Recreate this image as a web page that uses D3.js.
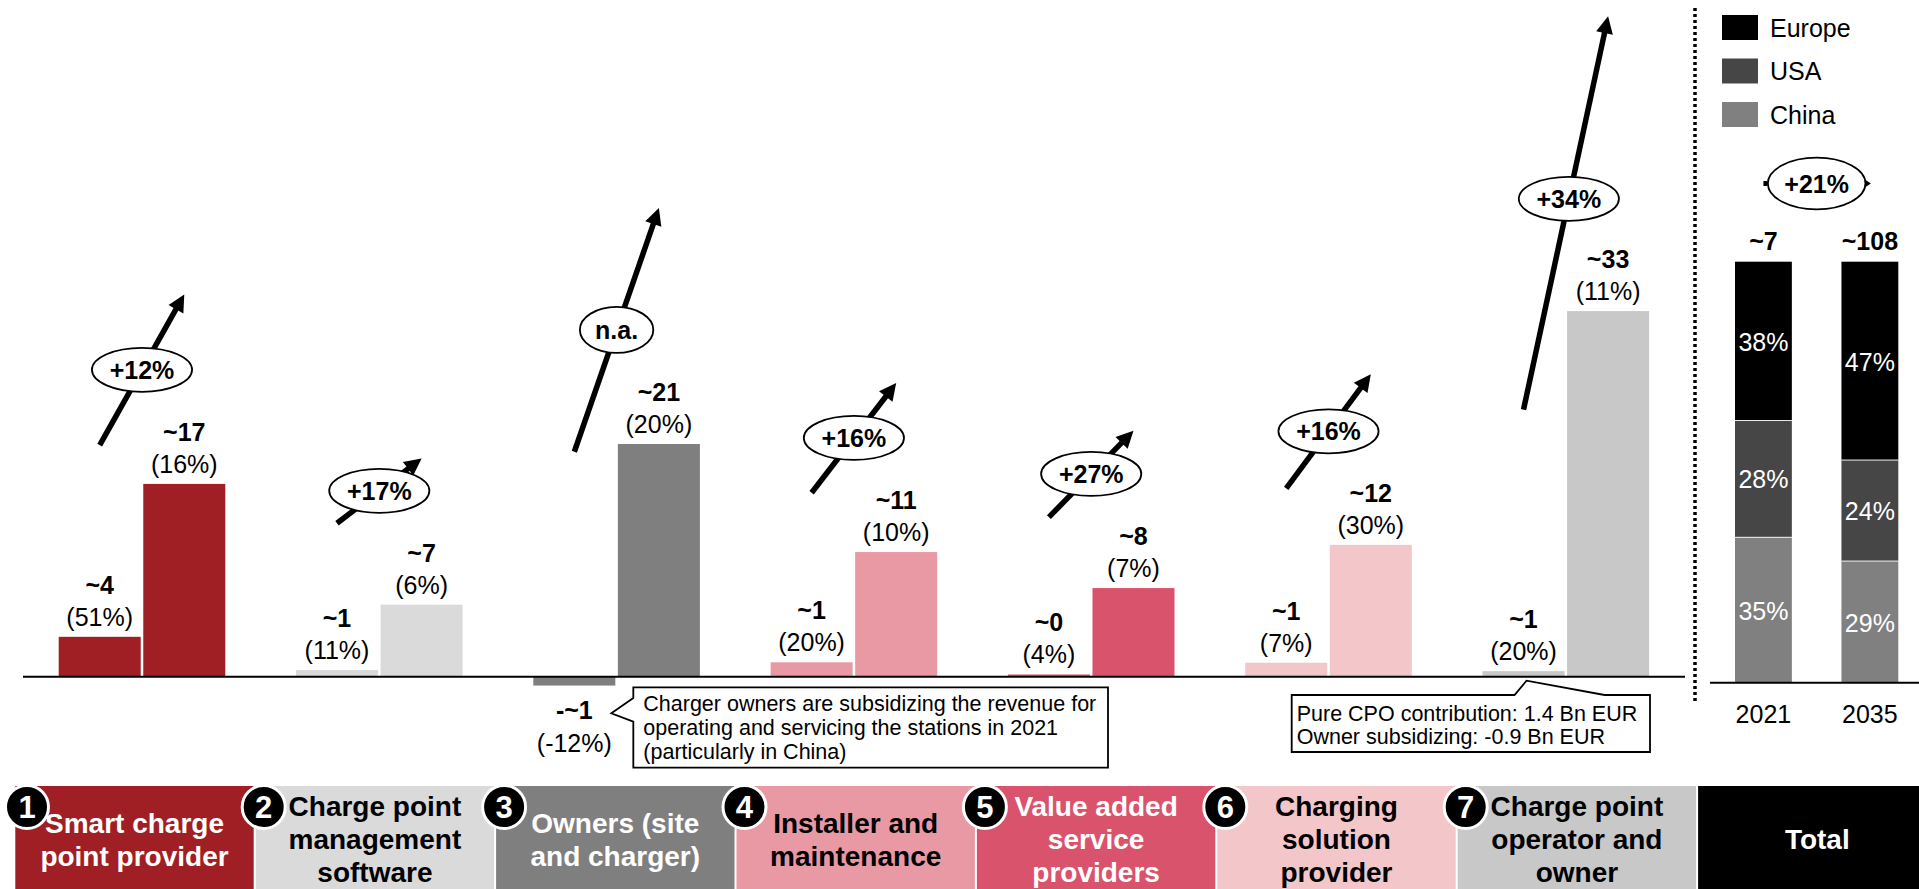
<!DOCTYPE html>
<html>
<head>
<meta charset="utf-8">
<script src="https://cdn.jsdelivr.net/npm/d3@7/dist/d3.min.js"></script>
<style>
  html, body { margin: 0; padding: 0; background: #fff; overflow: hidden; }
  svg { display: block; font-family: "Liberation Sans", Arial, Helvetica, sans-serif; }
</style>
</head>
<body>
<svg id="chart" width="1919" height="889"></svg>
<script>
// ---- Data (revenue pools, Bn EUR) ----
const categories = [
  "Smart charge\npoint provider",
  "Charge point\nmanagement\nsoftware",
  "Owners (site\nand charger)",
  "Installer and\nmaintenance",
  "Value added\nservice\nproviders",
  "Charging\nsolution\nprovider",
  "Charge point\noperator and\nowner"
];
const years = ["2021", "2035"];
const revenue2021 = [3.6, 0.6, -0.8, 1.3, 0.2, 1.26, 0.5];
const revenue2035 = [17.4, 6.5, 21, 11.25, 8, 11.9, 33];
const share2021 = ["51%", "11%", "-12%", "20%", "4%", "7%", "20%"];
const share2035 = ["16%", "6%", "20%", "10%", "7%", "30%", "11%"];
const cagr = ["+12%", "+17%", "n.a.", "+16%", "+27%", "+16%", "+34%"];

const regions = ["Europe", "USA", "China"];
const totalYears = ["2021", "2035"];
const totalValues = [7, 108];
const regionShare2021 = [38, 28, 35];
const regionShare2035 = [47, 24, 29];
const totalCagr = "+21%";

const noteOwners = ["Charger owners are subsidizing the revenue for",
                    "operating and servicing the stations in 2021",
                    "(particularly in China)"];
const noteCpo = ["Pure CPO contribution: 1.4 Bn EUR",
                 "Owner subsidizing: -0.9 Bn EUR"];

// ---- Styling / layout ----
const barColors = ["#a01f24", "#dadada", "#7f7f7f", "#e899a4", "#da536c", "#f3c6c9", "#c8c8c8"];
const boxText = ["#fff", "#000", "#fff", "#000", "#fff", "#000", "#000"];
const regionColors = { Europe: "#000000", USA: "#464646", China: "#808080" };
// growth arrows: start / end level in axis units (Bn EUR), bubble position along the arrow
const arrowFrom = [20.9, 13.85, 20.3, 16.6, 14.4, 17.0, 24.1];
const arrowTo   = [34.5, 19.7, 42.3, 26.5, 22.2, 27.3, 59.6];
const bubbleAt  = [0.5, 0.5, 0.5, 0.5, 0.5, 0.5, 0.536];

const FONT = 25;
const svg = d3.select("#chart");

const x = d3.scaleBand().domain(categories).range([58.7, 1649.1]).paddingInner(0.298).paddingOuter(0);
const xYear = d3.scaleBand().domain(years).range([0, x.bandwidth()]).paddingInner(0.03);
const y = d3.scaleLinear().domain([0, 33]).range([676.7, 676.7 - 33 * 11.08]);

const rows = categories.map((c, i) => ({
  cat: c, i,
  vals: [
    { year: "2021", v: revenue2021[i], share: share2021[i] },
    { year: "2035", v: revenue2035[i], share: share2035[i] }
  ]
}));

const fmt = v => (v < 0 ? "-~" + Math.round(Math.abs(v)) : "~" + Math.round(v));

// ---- Bars ----
const groups = svg.append("g").selectAll("g").data(rows).join("g")
  .attr("transform", d => `translate(${x(d.cat)},0)`);

groups.selectAll("rect").data(d => d.vals.map(v => ({ ...v, i: d.i }))).join("rect")
  .attr("x", d => xYear(d.year))
  .attr("width", xYear.bandwidth())
  .attr("y", d => Math.min(y(d.v), y(0)))
  .attr("height", d => Math.abs(y(d.v) - y(0)))
  .attr("fill", d => barColors[d.i]);

// value and share labels
groups.each(function (d) {
  const g = d3.select(this);
  d.vals.forEach(v => {
    const cx = xYear(v.year) + xYear.bandwidth() / 2;
    const top = v.v >= 0;
    const yVal = top ? y(v.v) - 11 - 32 : y(v.v) + 33;
    const yPct = top ? y(v.v) - 11 : y(v.v) + 66;
    g.append("text").attr("x", cx).attr("y", yVal).attr("text-anchor", "middle")
      .attr("font-size", FONT).attr("font-weight", "bold").text(fmt(v.v));
    g.append("text").attr("x", cx).attr("y", yPct).attr("text-anchor", "middle")
      .attr("font-size", FONT).text("(" + v.share + ")");
  });
});

// baseline
svg.append("line").attr("x1", 23).attr("x2", 1685).attr("y1", y(0)).attr("y2", y(0))
  .attr("stroke", "#000").attr("stroke-width", 2);

// ---- Growth arrows with CAGR bubbles ----
function arrow(g, x1, y1, x2, y2, w, headL, headW) {
  const dx = x2 - x1, dy = y2 - y1, len = Math.hypot(dx, dy);
  const ux = dx / len, uy = dy / len;
  const bx = x2 - ux * headL, by = y2 - uy * headL;
  g.append("line").attr("x1", x1).attr("y1", y1).attr("x2", bx + ux).attr("y2", by + uy)
    .attr("stroke", "#000").attr("stroke-width", w);
  g.append("path")
    .attr("d", `M${x2},${y2}L${bx - uy * headW},${by + ux * headW}L${bx + uy * headW},${by - ux * headW}Z`)
    .attr("fill", "#000");
}

const arrows = svg.append("g");
rows.forEach(d => {
  const x1 = x(d.cat) + xYear("2021") + xYear.bandwidth() / 2;
  const x2 = x(d.cat) + xYear("2035") + xYear.bandwidth() / 2;
  const y1 = y(arrowFrom[d.i]), y2 = y(arrowTo[d.i]);
  arrow(arrows, x1, y1, x2, y2, 5.5, 17, 8.5);
  const f = bubbleAt[d.i];
  const mx = x1 + (x2 - x1) * f, my = y1 + (y2 - y1) * f;
  const el = arrows.append("ellipse").attr("cx", mx).attr("cy", my)
    .attr("fill", "#fff").attr("stroke", "#000").attr("stroke-width", 1.8);
  const t = arrows.append("text").attr("x", mx).attr("y", my + 9).attr("text-anchor", "middle")
    .attr("font-size", FONT).attr("font-weight", "bold").text(cagr[d.i]);
  const w = t.node().getComputedTextLength();
  el.attr("rx", Math.max(33, w * 0.62 + 10)).attr("ry", cagr[d.i] === "n.a." ? 23 : 22);
});

// ---- Callouts ----
{
  const bc = x(categories[2]) + xYear("2021") + xYear.bandwidth() / 2;
  const L = bc + 59, R = 1108, T = 687.3, B = 767.7, ax = bc + 37;
  svg.append("path")
    .attr("d", `M${L},${T}H${R}V${B}H${L}V721.7L${ax},713.3L${L},698Z`)
    .attr("fill", "#fff").attr("stroke", "#000").attr("stroke-width", 1.8);
  noteOwners.forEach((s, k) => svg.append("text").attr("x", L + 10).attr("y", 711 + k * 23.8)
    .attr("font-size", 21.5).text(s));
}
{
  const bc = x(categories[6]) + xYear("2021") + xYear.bandwidth() / 2;
  const L = 1291.7, R = 1650, T = 695, B = 752;
  svg.append("path")
    .attr("d", `M${L},${T}H${bc - 9}L${bc + 3},${y(0) + 4}L${bc + 81},${T}H${R}V${B}H${L}Z`)
    .attr("fill", "#fff").attr("stroke", "#000").attr("stroke-width", 1.8);
  noteCpo.forEach((s, k) => svg.append("text").attr("x", L + 5).attr("y", 720.5 + k * 23.5)
    .attr("font-size", 21.5).text(s));
}

// ---- Category boxes ----
const boxes = [...categories, "Total"];
const xb = d3.scaleBand().domain(boxes).range([15.3, 1936.5]).paddingInner(0.0083).paddingOuter(0);
const boxTop = 786;
const bg = svg.append("g");
boxes.forEach((c, i) => {
  const isTotal = c === "Total";
  bg.append("rect").attr("x", xb(c)).attr("y", boxTop).attr("width", xb.bandwidth()).attr("height", 110)
    .attr("fill", isTotal ? "#000" : barColors[i]);
  const lines = c.split("\n");
  const cx = xb(c) + xb.bandwidth() / 2;
  lines.forEach((s, k) => bg.append("text").attr("x", cx)
    .attr("y", 849 + (k - (lines.length - 1) / 2) * 33)
    .attr("text-anchor", "middle").attr("font-size", 28).attr("font-weight", "bold")
    .attr("fill", isTotal ? "#fff" : boxText[i]).text(s));
});
boxes.forEach((c, i) => {
  if (c === "Total") return;
  const cx = Math.max(xb(c) + 8, 27);
  bg.append("circle").attr("cx", cx).attr("cy", 807).attr("r", 21.5)
    .attr("fill", "#000").attr("stroke", "#fff").attr("stroke-width", 3);
  bg.append("text").attr("x", cx).attr("y", 818).attr("text-anchor", "middle")
    .attr("font-size", 31).attr("font-weight", "bold").attr("fill", "#fff").text(i + 1);
});

// ---- Total panel ----
svg.append("line").attr("x1", 1695).attr("x2", 1695).attr("y1", 8).attr("y2", 702)
  .attr("stroke", "#000").attr("stroke-width", 3.5).attr("stroke-dasharray", "3,3");

const legend = svg.append("g");
regions.forEach((r, k) => {
  legend.append("rect").attr("x", 1722).attr("y", 15 + k * 43.5).attr("width", 36).attr("height", 25)
    .attr("fill", regionColors[r]);
  legend.append("text").attr("x", 1770).attr("y", 15 + k * 43.5 + 21.5).attr("font-size", FONT).text(r);
});

const xT = d3.scaleBand().domain(totalYears).range([1735, 1898.3]).paddingInner(0.466).paddingOuter(0);
const yT = d3.scaleLinear().domain([0, 1]).range([682.7, 261.7]);
const shares = [regionShare2021, regionShare2035];
totalYears.forEach((yr, j) => {
  const s = shares[j], sum = d3.sum(s);
  // stack from bottom: China, USA, Europe
  const order = [2, 1, 0];
  let acc = 0;
  order.forEach(k => {
    const f0 = acc / sum, f1 = (acc + s[k]) / sum;
    acc += s[k];
    svg.append("rect").attr("x", xT(yr)).attr("width", xT.bandwidth())
      .attr("y", yT(f1)).attr("height", yT(f0) - yT(f1)).attr("fill", regionColors[regions[k]]);
    svg.append("text").attr("x", xT(yr) + xT.bandwidth() / 2).attr("y", (yT(f0) + yT(f1)) / 2 + 10)
      .attr("text-anchor", "middle").attr("font-size", FONT).attr("fill", "#fff").text(s[k] + "%");
    if (f1 < 1) {
      svg.append("line").attr("x1", xT(yr)).attr("x2", xT(yr) + xT.bandwidth())
        .attr("y1", yT(f1)).attr("y2", yT(f1)).attr("stroke", "#fff").attr("stroke-width", 2);
    }
  });
  svg.append("text").attr("x", xT(yr) + xT.bandwidth() / 2).attr("y", yT(1) - 12)
    .attr("text-anchor", "middle").attr("font-size", FONT).attr("font-weight", "bold").text("~" + totalValues[j]);
  svg.append("text").attr("x", xT(yr) + xT.bandwidth() / 2).attr("y", 723)
    .attr("text-anchor", "middle").attr("font-size", FONT).text(yr);
});
svg.append("line").attr("x1", 1710).attr("x2", 1919).attr("y1", yT(0)).attr("y2", yT(0))
  .attr("stroke", "#000").attr("stroke-width", 2);

// total CAGR bubble
{
  const x1 = xT("2021") + xT.bandwidth() / 2, x2 = xT("2035") + xT.bandwidth() / 2, cy = 183.5;
  svg.append("line").attr("x1", x1 + 2).attr("x2", x2 - 2).attr("y1", cy).attr("y2", cy)
    .attr("stroke", "#000").attr("stroke-width", 2);
  svg.append("path").attr("d", `M${x2 + 1},${cy}L${x2 - 5},${cy - 4}L${x2 - 5},${cy + 4}Z`).attr("fill", "#000");
  svg.append("rect").attr("x", x1).attr("y", cy - 2.5).attr("width", 4).attr("height", 5).attr("fill", "#000");
  svg.append("ellipse").attr("cx", (x1 + x2) / 2).attr("cy", cy).attr("rx", 48.8).attr("ry", 25.8)
    .attr("fill", "#fff").attr("stroke", "#000").attr("stroke-width", 1.8);
  svg.append("text").attr("x", (x1 + x2) / 2).attr("y", cy + 9).attr("text-anchor", "middle")
    .attr("font-size", FONT).attr("font-weight", "bold").text(totalCagr);
}
</script>
</body>
</html>
